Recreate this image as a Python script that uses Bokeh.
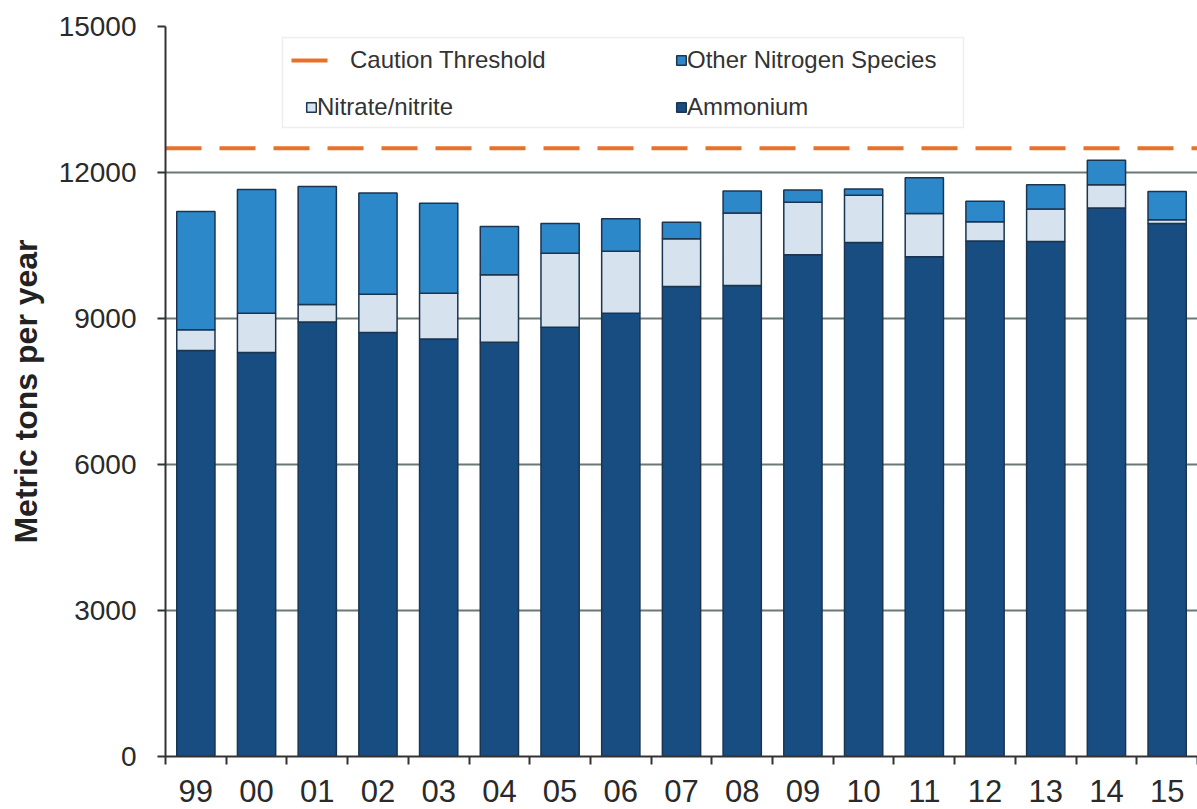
from bokeh.plotting import figure
from bokeh.models import (Range1d, FixedTicker, Legend, LegendItem, BoxAnnotation,
                          ColumnDataSource, NumeralTickFormatter)
from bokeh.embed import file_html
from bokeh.resources import INLINE

# ---- data ----
years = ["99", "00", "01", "02", "03", "04", "05", "06", "07", "08",
         "09", "10", "11", "12", "13", "14", "15"]
ammonium = [8340, 8300, 8930, 8710, 8580, 8510, 8820, 9110, 9660, 9680,
            10310, 10560, 10270, 10590, 10580, 11270, 10950]
nitrate_nitrite = [430, 810, 360, 790, 940, 1390, 1520, 1270, 980, 1490,
                   1080, 970, 890, 400, 670, 480, 80]
other_nitrogen = [2430, 2540, 2420, 2080, 1850, 990, 610, 670, 340, 450,
                  250, 130, 730, 420, 500, 500, 580]
caution_threshold = 12500
y_ticks = [0, 3000, 6000, 9000, 12000, 15000]

# ---- layout helpers ----
centers = [i + 0.5 for i in range(len(years))]
boundaries = list(range(len(years) + 1))
X_END = 17.0
Y_END = 15000

src = ColumnDataSource(dict(x=centers, ammonium=ammonium,
                            nitrate=nitrate_nitrite, other=other_nitrogen))

p = figure(width=1197, height=809, x_range=Range1d(0, X_END), y_range=Range1d(0, Y_END),
           output_backend="svg", toolbar_location=None,
           min_border_top=26, min_border_left=165, min_border_right=0, min_border_bottom=53)
p.outline_line_color = None
p.background_fill_color = "white"
p.border_fill_color = "white"

bars = p.vbar_stack(["ammonium", "nitrate", "other"], x="x", width=0.63, source=src,
                    fill_color=["#184d82", "#d6e3ee", "#2d88c9"],
                    line_color="#1b3450", line_width=1.5)

thr = p.line(x=[0, X_END], y=[caution_threshold, caution_threshold],
             line_color="#e8702a", line_width=4, line_dash="36 18")

# ---- axes ----
p.xaxis.ticker = FixedTicker(ticks=centers, minor_ticks=boundaries)
p.xaxis.major_label_overrides = {c: y for c, y in zip(centers, years)}
p.xaxis.major_tick_line_color = None
p.xaxis.minor_tick_line_color = "#333333"
p.xaxis.minor_tick_line_width = 2
p.xaxis.minor_tick_out = 8
p.xaxis.minor_tick_in = 0
p.xaxis.axis_line_color = "#333333"
p.xaxis.axis_line_width = 2
p.xaxis.major_label_text_font = "Liberation Sans"
p.xaxis.major_label_text_font_size = "31px"
p.xaxis.major_label_text_color = "#2a2a2a"
p.xaxis.major_label_standoff = 15

p.yaxis.ticker = FixedTicker(ticks=y_ticks)
p.yaxis.formatter = NumeralTickFormatter(format="0")
p.yaxis.major_tick_line_color = "#333333"
p.yaxis.major_tick_line_width = 2
p.yaxis.major_tick_out = 8
p.yaxis.major_tick_in = 0
p.yaxis.minor_tick_line_color = None
p.yaxis.axis_line_color = "#333333"
p.yaxis.axis_line_width = 2
p.yaxis.major_label_text_font = "Liberation Sans"
p.yaxis.major_label_text_font_size = "28px"
p.yaxis.major_label_text_color = "#2a2a2a"
p.yaxis.major_label_standoff = 21
p.yaxis.axis_label = "Metric tons per year"
p.yaxis.axis_label_text_font = "Liberation Sans"
p.yaxis.axis_label_text_font_size = "32px"
p.yaxis.axis_label_text_font_style = "bold"
p.yaxis.axis_label_text_color = "#222222"
p.yaxis.axis_label_standoff = 12

p.xgrid.visible = False
p.ygrid.ticker = FixedTicker(ticks=y_ticks)
p.ygrid.grid_line_color = "#6b7878"
p.ygrid.grid_line_width = 2

# ---- legend ----
box = BoxAnnotation(left=282, right=963, top=37, bottom=127,
                    left_units="canvas", right_units="canvas",
                    top_units="canvas", bottom_units="canvas",
                    fill_color="white", fill_alpha=1.0,
                    line_color="#c8c8c8", line_width=1.5)
p.add_layout(box)

common = dict(padding=0, margin=0, border_line_alpha=0, background_fill_alpha=0,
              label_text_font="Liberation Sans", label_text_font_size="24px",
              label_text_color="#333333")

leg1 = Legend(items=[LegendItem(label="Caution Threshold", renderers=[thr])],
              location=(126, 682), glyph_width=42, glyph_height=24,
              label_standoff=17, **common)
leg2 = Legend(items=[LegendItem(label="Nitrate/nitrite", renderers=[bars[1]])],
              location=(140, 635), glyph_width=12, glyph_height=12,
              label_standoff=0, **common)
leg3 = Legend(items=[LegendItem(label="Other Nitrogen Species", renderers=[bars[2]]),
                     LegendItem(label="Ammonium", renderers=[bars[0]])],
              location=(510, 635), glyph_width=12, glyph_height=12,
              label_standoff=0, spacing=19, **common)
for lg in (leg1, leg2, leg3):
    p.add_layout(lg)

open("out.html", "w").write(file_html(p, INLINE))
